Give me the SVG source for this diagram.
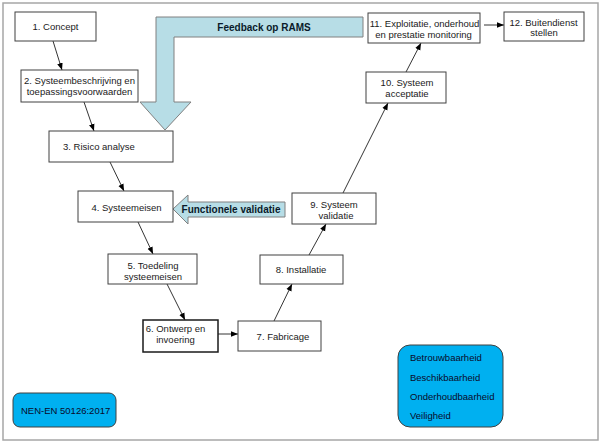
<svg xmlns="http://www.w3.org/2000/svg" width="604" height="445" viewBox="0 0 604 445">
<defs>
<marker id="ah" viewBox="0 0 10 10" refX="10" refY="5" markerWidth="7" markerHeight="7" markerUnits="userSpaceOnUse" orient="auto">
<path d="M0,1 L10,5 L0,9 Z" fill="#000"/>
</marker>
</defs>
<style>
.box{fill:#fff;stroke:#404040;stroke-width:1}
.box6{fill:#fff;stroke:#1a1a1a;stroke-width:1.5}
.t{font-family:"Liberation Sans",Arial,sans-serif;font-size:9.5px;fill:#1a1a1a;text-anchor:middle}
.tl{font-family:"Liberation Sans",Arial,sans-serif;font-size:9.5px;fill:#0a0a2a}
.b{font-family:"Liberation Sans",Arial,sans-serif;font-size:10px;font-weight:bold;fill:#0a1a2a;text-anchor:middle}
.c{stroke:#000;stroke-width:0.8;fill:none;marker-end:url(#ah)}
.big{fill:#b7dde6;stroke:#808080;stroke-width:1}
.rb{fill:#00b0f0;stroke:#404040;stroke-width:1}
</style>
<rect x="0" y="0" width="604" height="445" fill="#fff"/>
<rect x="3" y="3" width="595" height="437" fill="#fff" stroke="#a6a6a6" stroke-width="1.5"/>

<g id="feedback-arrow">
<polygon class="big" points="156,17 363,17 363,37 174,37 174,102 191,102 165,130 140,102 156,102"/>
<text class="b" x="264" y="30.5">Feedback op RAMS</text>
</g>
<g id="validatie-arrow">
<polygon class="big" points="173,209 188,195 188,202 285,202 285,217 188,217 188,224"/>
<text class="b" x="231" y="213">Functionele validatie</text>
</g>

<g id="connectors">
<line class="c" x1="53" y1="41" x2="62" y2="70"/>
<line class="c" x1="84" y1="102" x2="94" y2="131"/>
<line class="c" x1="110" y1="162" x2="124" y2="191"/>
<line class="c" x1="138" y1="222" x2="153" y2="254"/>
<line class="c" x1="167" y1="284" x2="185" y2="320"/>
<line class="c" x1="218" y1="334" x2="238" y2="334"/>
<line class="c" x1="274" y1="321" x2="292" y2="284"/>
<line class="c" x1="309" y1="255" x2="326" y2="224"/>
<line class="c" x1="343" y1="193" x2="388" y2="103"/>
<line class="c" x1="406" y1="72" x2="421" y2="43"/>
<line class="c" x1="484" y1="25" x2="504" y2="25"/>
</g>

<g id="n1"><rect class="box" x="15" y="12" width="81" height="29"/><text class="t" x="55.5" y="30">1. Concept</text></g>
<g id="n2"><rect class="box" x="21" y="70" width="117" height="32"/><text class="t" x="79.5" y="83.5">2. Systeembeschrijving en</text><text class="t" x="79.5" y="94.5">toepassingsvoorwaarden</text></g>
<g id="n3"><rect class="box" x="49" y="131" width="124" height="31"/><text class="t" x="63" y="150" style="text-anchor:start">3. Risico analyse</text></g>
<g id="n4"><rect class="box" x="78" y="191" width="95" height="31"/><text class="t" x="126.5" y="210.5">4. Systeemeisen</text></g>
<g id="n5"><rect class="box" x="108" y="254" width="89" height="30"/><text class="t" x="153" y="268.5">5. Toedeling</text><text class="t" x="153" y="279.5">systeemeisen</text></g>
<g id="n6"><rect class="box6" x="143" y="320" width="75" height="32"/><text class="t" x="175.5" y="331.5">6. Ontwerp en</text><text class="t" x="175.5" y="342.5">invoering</text></g>
<g id="n7"><rect class="box" x="238" y="321" width="83" height="30"/><text class="t" x="283" y="339.5">7. Fabricage</text></g>
<g id="n8"><rect class="box" x="260" y="255" width="83" height="29"/><text class="t" x="301" y="272.5">8. Installatie</text></g>
<g id="n9"><rect class="box" x="292" y="193" width="84" height="31"/><text class="t" x="334" y="207.5">9. Systeem</text><text class="t" x="336" y="218.5">validatie</text></g>
<g id="n10"><rect class="box" x="366" y="72" width="80" height="31"/><text class="t" x="407" y="85.5">10. Systeem</text><text class="t" x="407" y="96.5">acceptatie</text></g>
<g id="n11"><rect class="box" x="368" y="13" width="112" height="30"/><text class="t" x="424.5" y="27">11. Exploitatie, onderhoud</text><text class="t" x="423.5" y="37.5">en prestatie monitoring</text></g>
<g id="n12"><rect class="box" x="504" y="12" width="80" height="29"/><text class="t" x="543.5" y="25.5">12. Buitendienst</text><text class="t" x="544" y="36">stellen</text></g>

<g id="norm"><rect class="rb" x="13" y="393" width="103" height="34" rx="7"/><text class="tl" x="21" y="413.5">NEN-EN 50126:2017</text></g>
<g id="rams"><rect class="rb" x="398" y="345" width="105" height="82" rx="12"/>
<text class="tl" x="410" y="361">Betrouwbaarheid</text>
<text class="tl" x="410" y="380.5">Beschikbaarheid</text>
<text class="tl" x="410" y="400">Onderhoudbaarheid</text>
<text class="tl" x="410" y="419">Veiligheid</text>
</g>
</svg>
